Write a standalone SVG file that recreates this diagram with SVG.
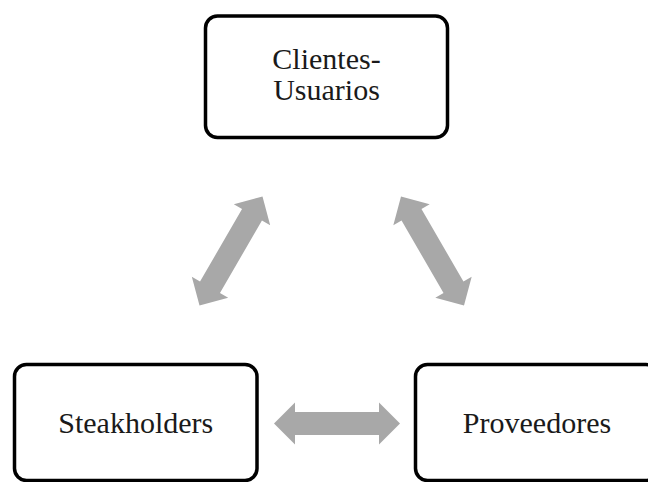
<svg xmlns="http://www.w3.org/2000/svg" xmlns:xlink="http://www.w3.org/1999/xlink" width="648" height="482" viewBox="0 0 648 482">
  <style>
    .box { fill: #ffffff; stroke: #000000; stroke-width: 3.5; }
    .label { font-family: "Liberation Serif", "Times New Roman", serif; font-size: 30px; fill: #1a1a1a; text-anchor: middle; }
    .link { fill: #a8a8a8; }
  </style>
  <defs>
    <!-- double-headed block arrow, centred on the origin -->
    <path id="dbl-arrow" d="M-63,0 L-42,-21 L-42,-11.5 L42,-11.5 L42,-21 L63,0 L42,21 L42,11.5 L-42,11.5 L-42,21 Z"/>
  </defs>
  <rect width="648" height="482" fill="#ffffff"/>

  <g id="connectors">
    <use xlink:href="#dbl-arrow" class="link" transform="translate(231,251) rotate(-60)"/>
    <use xlink:href="#dbl-arrow" class="link" transform="translate(432.5,251) rotate(60)"/>
    <use xlink:href="#dbl-arrow" class="link" transform="translate(337,423.5)"/>
  </g>

  <g id="clientes-usuarios">
    <rect class="box" x="205.5" y="16" width="242" height="121.5" rx="12"/>
    <text class="label" x="326.5" y="69">Clientes-</text>
    <text class="label" x="326.5" y="100">Usuarios</text>
  </g>

  <g id="steakholders">
    <rect class="box" x="14.5" y="364.5" width="242.5" height="116" rx="12"/>
    <text class="label" x="135.75" y="433">Steakholders</text>
  </g>

  <g id="proveedores">
    <rect class="box" x="415.5" y="364.5" width="242.5" height="116" rx="12"/>
    <text class="label" x="537" y="433">Proveedores</text>
  </g>
</svg>
